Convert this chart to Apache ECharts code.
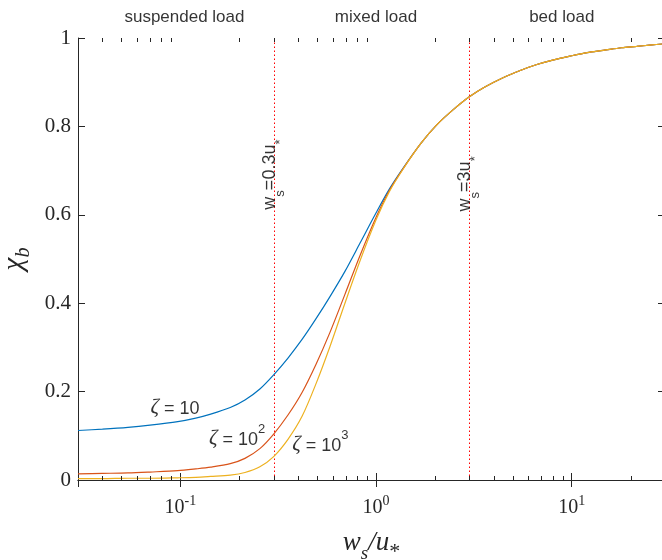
<!DOCTYPE html>
<html><head><meta charset="utf-8">
<script src="https://cdn.jsdelivr.net/npm/echarts@6/dist/echarts.min.js"></script>
<style>html,body{margin:0;padding:0;background:#fff}#c{width:662px;height:560px}</style>
</head><body><div id="c"></div>
<script>
// ---- data ----
const settlingRatio = [0.03, 0.04, 0.054, 0.07, 0.097, 0.12, 0.143, 0.18, 0.214, 0.255, 0.30, 0.355, 0.419, 0.494, 0.582, 0.694, 0.829, 1.0, 1.17, 1.374, 1.7, 2.05, 2.5, 3.0, 3.6, 4.46, 5.5, 6.64, 8, 9.81, 12, 14.5, 18, 21.5, 25, 30];
const chiZeta10   = [0.112, 0.115, 0.119, 0.124, 0.132, 0.140, 0.149, 0.164, 0.181, 0.206, 0.238, 0.276, 0.318, 0.365, 0.415, 0.472, 0.536, 0.604, 0.658, 0.705, 0.762, 0.804, 0.839, 0.867, 0.889, 0.910, 0.927, 0.940, 0.950, 0.959, 0.967, 0.972, 0.978, 0.981, 0.984, 0.987];
const chiZeta100  = [0.014, 0.015, 0.016, 0.018, 0.021, 0.025, 0.029, 0.037, 0.049, 0.071, 0.104, 0.147, 0.198, 0.262, 0.334, 0.420, 0.508, 0.594, 0.655, 0.704, 0.762, 0.804, 0.839, 0.867, 0.889, 0.910, 0.927, 0.940, 0.950, 0.959, 0.967, 0.972, 0.978, 0.981, 0.984, 0.987];
const chiZeta1000 = [0.003, 0.003, 0.004, 0.004, 0.005, 0.006, 0.008, 0.011, 0.017, 0.030, 0.053, 0.092, 0.144, 0.218, 0.302, 0.400, 0.496, 0.588, 0.652, 0.703, 0.762, 0.804, 0.839, 0.867, 0.889, 0.910, 0.927, 0.940, 0.950, 0.959, 0.967, 0.972, 0.978, 0.981, 0.984, 0.987];
const zetaExponents = [1, 2, 3];
const zetaLabelAt = [[0.094, 0.170], [0.195, 0.100], [0.52, 0.087]];
const boundaryRatios = [0.3, 3];
const boundaryLabels = ['0.3', '3'];
const boundaryLabelY = [0.691, 0.670];
const regionNames = ['suspended load', 'mixed load', 'bed load'];
const regionCenters = [0.105, 1.0, 8.9];
const regionLabelY = 1.047;
const minorTicks = [0.04,0.05,0.06,0.07,0.08,0.09,0.2,0.3,0.4,0.5,0.6,0.7,0.8,0.9,2,3,4,5,6,7,8,9,20];

const colors = ['#0072BD', '#D95319', '#EDB120'];
const AX = '#262626';
const SANS = 'Liberation Sans';
const SERIF = 'Liberation Serif';

const chart = echarts.init(document.getElementById('c'), null, {renderer: 'canvas'});

function curve(vals, color) {
  return {
    type: 'line', data: settlingRatio.map((x, i) => [x, vals[i]]),
    showSymbol: false, symbol: 'none', smooth: 0.3,
    lineStyle: {color: color, width: 1.2}, silent: true, z: 3
  };
}

const baseX = {
  type: 'log', logBase: 10, min: 0.03, max: 30,
  splitLine: {show: false},
  axisLine: {show: true, lineStyle: {color: AX, width: 1}},
  axisTick: {show: true, inside: true, length: 7, lineStyle: {color: AX}}
};

const series = [
  curve(chiZeta10, colors[0]),
  curve(chiZeta100, colors[1]),
  curve(chiZeta1000, colors[2])
];

// dotted boundary lines
series.push({
  type: 'custom', xAxisIndex: 0, yAxisIndex: 0, silent: true, z: 2,
  data: boundaryRatios.map(b => [b, 0]),
  renderItem: (params, api) => {
    const b = api.coord([api.value(0), 0]);
    const t = api.coord([api.value(0), 1]);
    const x = Math.round(b[0]) + 0.5;
    return {type: 'line', shape: {x1: x, y1: b[1], x2: x, y2: t[1]},
      style: {stroke: '#FF0000', lineWidth: 1, lineDash: [1.5, 2.5]}};
  }
});

boundaryRatios.forEach((b, i) => {
  series.push({
    type: 'scatter', data: [[b, boundaryLabelY[i]]], symbolSize: 0, silent: true, clip: false, z: 6,
    label: {
      show: true, position: 'inside', rotate: 90, offset: [0, 0],
      formatter: '{m|w}{s|s}{m|=' + boundaryLabels[i] + 'u}{s|*}',
      rich: {
        m: {fontFamily: SANS, fontSize: 18, color: '#000', lineHeight: 26, verticalAlign: 'top'},
        s: {fontFamily: SANS, fontSize: 13, color: '#000', verticalAlign: 'bottom'}
      }
    }
  });
});

zetaExponents.forEach((e, i) => {
  series.push({
    type: 'scatter', data: [zetaLabelAt[i]], symbolSize: 0, silent: true, clip: false, z: 6,
    label: {
      show: true, position: 'inside',
      formatter: e === 1 ? '{z|ζ}{t| = 10}' : '{z|ζ}{t| = 10}{p|' + e + '}',
      rich: {
        z: {fontFamily: SERIF, fontStyle: 'italic', fontSize: 21, color: '#000', lineHeight: 26, verticalAlign: 'bottom'},
        t: {fontFamily: SANS, fontSize: 18, color: '#000', lineHeight: 26, verticalAlign: 'bottom'},
        p: {fontFamily: SANS, fontSize: 13, color: '#000', verticalAlign: 'top'}
      }
    }
  });
});

regionNames.forEach((n, i) => {
  series.push({
    type: 'scatter', data: [[regionCenters[i], regionLabelY]], symbolSize: 0, silent: true, clip: false, z: 6,
    label: {show: true, position: 'inside', formatter: n, fontFamily: SANS, fontSize: 17, color: '#000'}
  });
});

series.push({
  type: 'custom', xAxisIndex: 0, yAxisIndex: 0, silent: true, z: 5,
  data: minorTicks.map(v => [v, 0]),
  renderItem: (params, api) => {
    const b = api.coord([api.value(0), 0]);
    const t = api.coord([api.value(0), 1]);
    const x = Math.round(b[0]) + 0.5;
    return {type: 'group', children: [
      {type: 'line', shape: {x1: x, y1: b[1], x2: x, y2: b[1] - 4}, style: {stroke: AX, lineWidth: 1}},
      {type: 'line', shape: {x1: x, y1: t[1], x2: x, y2: t[1] + 4}, style: {stroke: AX, lineWidth: 1}}
    ]};
  }
});

chart.setOption({
  animation: false,
  backgroundColor: '#fff',
  grid: {left: 78, top: 38, right: -3, bottom: 80, containLabel: false, outerBoundsMode: 'none'},
  xAxis: [
    Object.assign({}, baseX, {
      position: 'bottom',
      axisLabel: {
        show: true, margin: 14, showMinLabel: false, showMaxLabel: false,
        formatter: v => '{b|10}{p|' + Math.round(Math.log10(v)) + '}',
        rich: {
          b: {fontFamily: SERIF, fontSize: 20, color: AX, lineHeight: 24, verticalAlign: 'bottom'},
          p: {fontFamily: SERIF, fontSize: 14, color: AX, verticalAlign: 'top'}
        }
      },
      name: '{i|w}{s|s}{i|/u}{a|*}', nameLocation: 'middle', nameGap: 49,
      nameTextStyle: {
        rich: {
          i: {fontFamily: SERIF, fontStyle: 'italic', fontSize: 27, color: AX, lineHeight: 34, verticalAlign: 'top'},
          s: {fontFamily: SERIF, fontStyle: 'italic', fontSize: 19, color: AX, verticalAlign: 'bottom'},
          a: {fontFamily: SERIF, fontSize: 22, color: AX, verticalAlign: 'bottom'}
        }
      }
    }),
    Object.assign({}, baseX, {position: 'top', axisLabel: {show: false}})
  ],
  yAxis: [
    {
      type: 'value', min: 0, max: 1, interval: 0.2, position: 'left',
      splitLine: {show: false},
      axisLine: {show: true, lineStyle: {color: AX, width: 1}},
      axisTick: {show: true, inside: true, length: 7, lineStyle: {color: AX}},
      axisLabel: {margin: 7, fontFamily: SERIF, fontSize: 21, color: AX,
        formatter: v => String(Math.round(v * 10) / 10)},
      name: '{i|χ}{s|b}', nameLocation: 'middle', nameGap: 37,
      nameTextStyle: {
        rich: {
          i: {fontFamily: SERIF, fontStyle: 'italic', fontSize: 29, color: AX, lineHeight: 34, verticalAlign: 'top'},
          s: {fontFamily: SERIF, fontStyle: 'italic', fontSize: 20, color: AX, verticalAlign: 'bottom'}
        }
      }
    },
    {
      type: 'value', min: 0, max: 1, interval: 0.2, position: 'right',
      splitLine: {show: false},
      axisLine: {show: true, lineStyle: {color: AX, width: 1}},
      axisTick: {show: true, inside: true, length: 7, lineStyle: {color: AX}},
      axisLabel: {show: false}
    }
  ],
  series: series
});
</script></body></html>
